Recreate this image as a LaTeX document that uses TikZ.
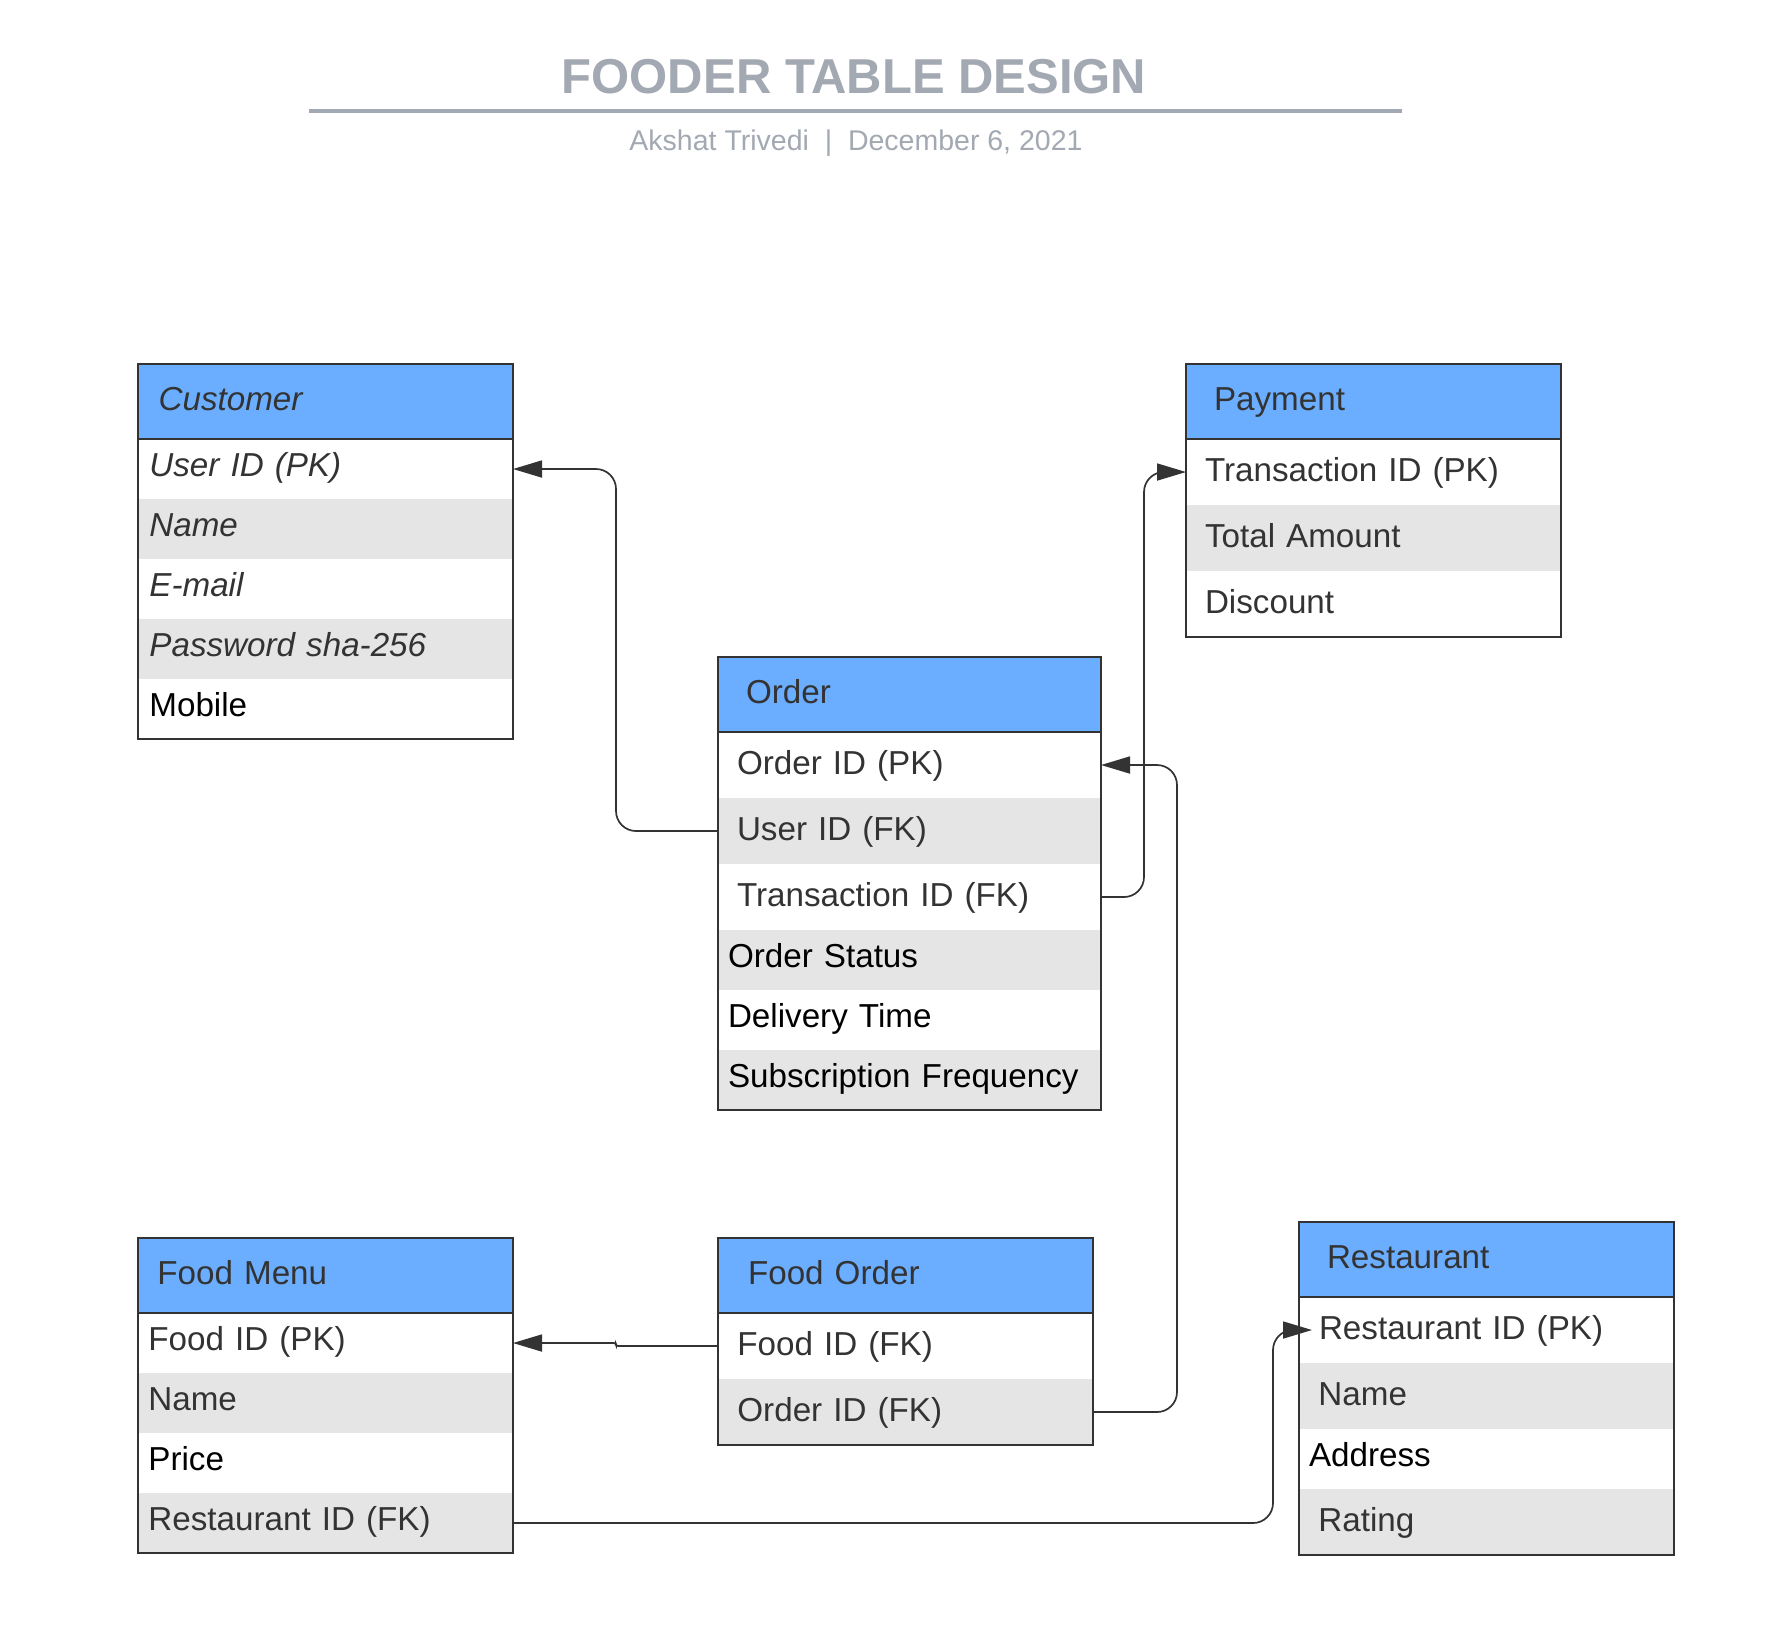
\documentclass[tikz,border=0pt]{standalone}
\usepackage{fontspec}
\setmainfont{Liberation Sans}
\usetikzlibrary{positioning,arrows.meta}

\definecolor{hdrblue}{RGB}{107,174,255}
\definecolor{rowgray}{RGB}{229,229,229}
\definecolor{ink}{RGB}{51,51,51}
\definecolor{titlegray}{RGB}{163,169,178}

\tikzstyle{cell} = [rectangle, inner sep=0pt, outer sep=0pt, text=ink, align=left, text width=187.5pt, text height=11.9pt, text depth=2.2pt, font=\fontsize{16.6}{20}\selectfont]
\tikzstyle{hdr} = [cell, fill=hdrblue, anchor=north west, minimum height=37.5pt, text depth=3.4pt]
\tikzstyle{rowW} = [cell, fill=white, minimum height=33pt]
\tikzstyle{rowG} = [cell, fill=rowgray, minimum height=33pt]
\tikzstyle{short} = [minimum height=30pt, text depth=4.4pt]
\tikzstyle{frame} = [draw=ink, line width=1pt]
\tikzstyle{arrow} = [draw=ink, line width=0.85pt, rounded corners=10pt, -{Triangle[length=14.5pt,width=8.5pt]}]

\begin{document}
\begin{tikzpicture}[x=1pt, y=-1pt]
\path [use as bounding box, fill=white] (0,0) rectangle (888,823);

% Title
\node (title) [text=titlegray, font=\fontsize{24.5}{29}\selectfont\bfseries] at (427,38.5) {FOODER TABLE DESIGN};
\coordinate (rl) at (154.5,55.5);
\coordinate (rr) at (701,55.5);
\draw [titlegray, line width=2pt] (rl) -- (rr);
\node (sub) [text=titlegray, anchor=base, font=\fontsize{14.25}{17}\selectfont] at (428,75.4) {Akshat Trivedi\ \ |\ \ December 6, 2021};

% Customer
\node (cu0) [hdr] at (69,182) {\hspace*{10.3pt}\itshape Customer};
\node (cu1) [rowW, short, below=0pt of cu0] {\hspace*{5.7pt}\itshape User ID (PK)};
\node (cu2) [rowG, short, below=0pt of cu1] {\hspace*{5.7pt}\itshape Name};
\node (cu3) [rowW, short, below=0pt of cu2] {\hspace*{5.7pt}\itshape E-mail};
\node (cu4) [rowG, short, below=0pt of cu3] {\hspace*{5.7pt}\itshape Password sha-256};
\node (cu5) [rowW, short, text=black, below=0pt of cu4] {\hspace*{5.7pt}Mobile};
\draw [frame] (cu0.north west) rectangle (cu5.south east);
\draw [frame] (cu0.south west) -- (cu0.south east);

% Payment
\node (pa0) [hdr] at (593,182) {\hspace*{14pt}Payment};
\node (pa1) [rowW, below=0pt of pa0] {\hspace*{9.5pt}Transaction ID (PK)};
\node (pa2) [rowG, below=0pt of pa1] {\hspace*{9.5pt}Total Amount};
\node (pa3) [rowW, below=0pt of pa2] {\hspace*{9.5pt}Discount};
\draw [frame] (pa0.north west) rectangle (pa3.south east);
\draw [frame] (pa0.south west) -- (pa0.south east);

% Order
\node (or0) [hdr, text width=191.5pt] at (359,328.5) {\hspace*{14pt}Order};
\node (or1) [rowW, text width=191.5pt, below=0pt of or0] {\hspace*{9.5pt}Order ID (PK)};
\node (or2) [rowG, text width=191.5pt, below=0pt of or1] {\hspace*{9.5pt}User ID (FK)};
\node (or3) [rowW, text width=191.5pt, below=0pt of or2] {\hspace*{9.5pt}Transaction ID (FK)};
\node (or4) [rowG, short, text width=191.5pt, text=black, below=0pt of or3] {\hspace*{5pt}Order Status};
\node (or5) [rowW, short, text width=191.5pt, text=black, below=0pt of or4] {\hspace*{5pt}Delivery Time};
\node (or6) [rowG, short, text width=191.5pt, text=black, below=0pt of or5] {\hspace*{5pt}Subscription Frequency};
\draw [frame] (or0.north west) rectangle (or6.south east);
\draw [frame] (or0.south west) -- (or0.south east);

% Food Menu
\node (fm0) [hdr] at (69,619) {\hspace*{9.7pt}Food Menu};
\node (fm1) [rowW, short, below=0pt of fm0] {\hspace*{5.2pt}Food ID (PK)};
\node (fm2) [rowG, short, below=0pt of fm1] {\hspace*{5.2pt}Name};
\node (fm3) [rowW, short, text=black, below=0pt of fm2] {\hspace*{5.2pt}Price};
\node (fm4) [rowG, short, below=0pt of fm3] {\hspace*{5.2pt}Restaurant ID (FK)};
\draw [frame] (fm0.north west) rectangle (fm4.south east);
\draw [frame] (fm0.south west) -- (fm0.south east);

% Food Order
\node (fo0) [hdr] at (359,619) {\hspace*{15pt}Food Order};
\node (fo1) [rowW, below=0pt of fo0] {\hspace*{9.7pt}Food ID (FK)};
\node (fo2) [rowG, below=0pt of fo1] {\hspace*{9.7pt}Order ID (FK)};
\draw [frame] (fo0.north west) rectangle (fo2.south east);
\draw [frame] (fo0.south west) -- (fo0.south east);

% Restaurant
\node (re0) [hdr] at (649.5,611) {\hspace*{14pt}Restaurant};
\node (re1) [rowW, below=0pt of re0] {\hspace*{10pt}Restaurant ID (PK)};
\node (re2) [rowG, below=0pt of re1] {\hspace*{9.7pt}Name};
\node (re3) [rowW, short, text=black, below=0pt of re2] {\hspace*{5pt}Address};
\node (re4) [rowG, below=0pt of re3] {\hspace*{9.7pt}Rating};
\draw [frame] (re0.north west) rectangle (re4.south east);
\draw [frame] (re0.south west) -- (re0.south east);

% Keys
\draw [arrow] (or2.west) -- ++(-51,0) |- (cu1.east);
\draw [arrow] (or3.east) -- ++(21.5,0) |- (pa1.west);
\draw [arrow] (fo2.east) -- ++(42,0) |- (or1.east);
\draw [arrow, rounded corners=1pt] (fo1.west) -- ++(-51,0) |- (fm1.east);
\draw [arrow] (fm4.east) -- ++(380,0) |- ([xshift=6.5pt]re1.west);
\end{tikzpicture}
\end{document}
